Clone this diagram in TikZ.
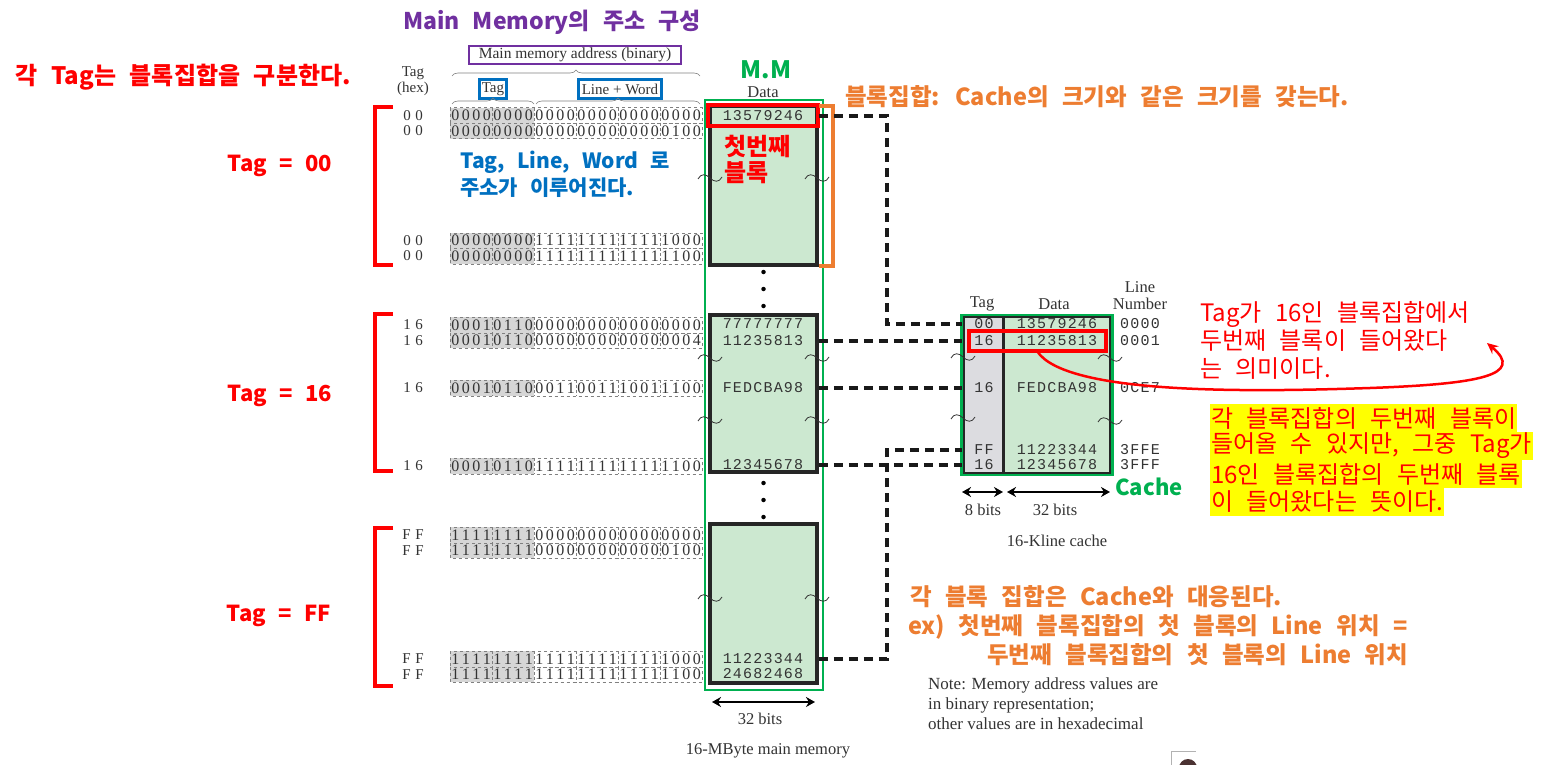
\documentclass[tikz,border=0pt]{standalone}
\usepackage{fontspec}
\usetikzlibrary{decorations.pathreplacing,arrows.meta}
\newfontfamily\kr{Noto Sans CJK KR}[WordSpace=2.5]
\newfontfamily\sr{Liberation Serif}
\newfontfamily\dtfont{Liberation Mono}[LetterSpace=8]
\definecolor{cred}{HTML}{FF0000}
\definecolor{corange}{HTML}{ED7D31}
\definecolor{cgreen}{HTML}{00B050}
\definecolor{cblue}{HTML}{0070C0}
\definecolor{cpurple}{HTML}{7030A0}
\definecolor{memfill}{HTML}{CCE8D0}
\definecolor{taggray}{HTML}{DCDCE0}
\definecolor{bingray}{HTML}{D6D6D6}
\definecolor{inkgray}{HTML}{333333}
\definecolor{cyellow}{HTML}{FFFF00}
\definecolor{darkbrown}{HTML}{4B3232}
\tikzset{
  krbold/.style={font=\kr\bfseries\fontsize{23.5}{28}\selectfont, inner sep=0pt},
  krplain/.style={font=\kr\fontsize{24}{28}\selectfont, inner sep=0pt},
  serif/.style={font=\sr\fontsize{16.5}{18}\selectfont, text=inkgray, inner sep=0pt},
  digst/.style={font=\sr\fontsize{16}{16}\selectfont, text=inkgray, inner sep=0pt},
  hexst/.style={font=\sr\fontsize{15}{16}\selectfont\addfontfeature{LetterSpace=30}, text=inkgray, inner sep=0pt},
  datast/.style={font=\dtfont\fontsize{15}{15}\selectfont, text=inkgray, inner sep=0pt},
  blockbox/.style={draw=black!85, line width=3.5pt, fill=memfill, inner sep=0pt},
  conn/.style={draw=black!90, line width=3.5pt, dash pattern=on 9pt off 6pt},
  redbracket/.style={draw=cred, line width=4pt},
  dotst/.style={circle, fill=black, inner sep=0pt, minimum size=4.5pt},
  wave/.style={draw=inkgray, line width=0.8pt},
  dblarrow/.style={line width=2.6pt, {Stealth[length=9pt,width=10pt]}-{Stealth[length=9pt,width=10pt]}},
  hl/.style={fill=cyellow, inner xsep=1pt, inner ysep=0pt, minimum height=28pt},
  bracest/.style={decorate, decoration={brace, amplitude=6pt}, draw=gray, line width=0.6pt}
}
\newcommand\binrow[4]{%
  \fill[bingray] (450,{#2-7.75}) rectangle (534,{#2+7.75});
  \draw[dashed, gray, line width=0.5pt] (450,{#2-7.75}) rectangle (702,{#2+7.75});
  \foreach \k in {1,...,5} \draw[densely dashed, gray, line width=0.4pt] ({450+\k*42},{#2-7.75}) -- ++(0,15.5);
  \node[hexst] (#1h) at (413,#2) {#3};
  \foreach \d [count=\i] in {#4} \node[digst] (#1d\i) at ({450+5.25+(\i-1)*10.5},#2) {\d};
}
\newcommand\tildeat[2]{\draw[wave] ({#1-12},{#2+1}) .. controls ({#1-9},{#2-5}) and ({#1-4},{#2-4}) .. (#1,#2) .. controls ({#1+4},{#2+4}) and ({#1+9},{#2+5}) .. ({#1+12},{#2-1});}
\begin{document}
\begin{tikzpicture}[x=1pt,y=-1pt]
\useasboundingbox (0,0) rectangle (1551,765);
\fill[white] (0,0) rectangle (1551,765);

% ---------- left labels ----------
\node[krbold, text=cred, font=\kr\bfseries\fontsize{24}{28}\selectfont] (lefttitle) at (183,77) {각 Tag는 블록집합을 구분한다.};
\node[krbold, text=cred, font=\kr\bfseries\fontsize{22}{26}\selectfont] (tag00) at (280,166) {Tag = 00};
\node[krbold, text=cred, font=\kr\bfseries\fontsize{22}{26}\selectfont] (tag16) at (280,396) {Tag = 16};
\node[krbold, text=cred, font=\kr\bfseries\fontsize{22}{26}\selectfont] (tagFF) at (279,616) {Tag = FF};
\draw[redbracket] (393,107) -- (375,107) -- (375,265) -- (393,265);
\draw[redbracket] (393,314) -- (375,314) -- (375,471) -- (393,471);
\draw[redbracket] (393,528) -- (375,528) -- (375,686) -- (393,686);

% ---------- header ----------
\node[font=\kr\bfseries\fontsize{23}{26}\selectfont, text=cpurple, inner sep=0pt] (title) at (552,22) {Main Memory의 주소 구성};
\node[serif, font=\sr\fontsize{15.5}{16}\selectfont, draw=cpurple, line width=2.5pt, minimum width=212pt, minimum height=18pt] (mmaddr) at (575,55) {Main memory address (binary)};
\draw[bracest] (452,76) -- (700,76);
\node[serif, font=\sr\fontsize{15}{16}\selectfont, draw=cblue, line width=2.5pt, minimum width=27pt, minimum height=19pt] (tagbox) at (493,89) {Tag};
\node[serif, font=\sr\fontsize{15}{16}\selectfont, draw=cblue, line width=2.5pt, minimum width=83pt, minimum height=19pt] (lwbox) at (620,89) {Line + Word};
\draw[bracest] (452,104) -- (534,104);
\draw[bracest] (536,104) -- (700,104);
\node[serif, font=\sr\fontsize{15}{16}\selectfont, align=center] (taghex) at (413,81) {Tag\\(hex)};

% ---------- binary rows ----------
\binrow{r1}{115.5}{00}{0,0,0,0,0,0,0,0,0,0,0,0,0,0,0,0,0,0,0,0,0,0,0,0}
\binrow{r2}{131}{00}{0,0,0,0,0,0,0,0,0,0,0,0,0,0,0,0,0,0,0,0,0,1,0,0}
\binrow{r3}{240.5}{00}{0,0,0,0,0,0,0,0,1,1,1,1,1,1,1,1,1,1,1,1,1,0,0,0}
\binrow{r4}{256}{00}{0,0,0,0,0,0,0,0,1,1,1,1,1,1,1,1,1,1,1,1,1,1,0,0}
\binrow{r5}{325}{16}{0,0,0,1,0,1,1,0,0,0,0,0,0,0,0,0,0,0,0,0,0,0,0,0}
\binrow{r6}{340.5}{16}{0,0,0,1,0,1,1,0,0,0,0,0,0,0,0,0,0,0,0,0,0,0,0,4}
\binrow{r7}{388}{16}{0,0,0,1,0,1,1,0,0,0,1,1,0,0,1,1,1,0,0,1,1,1,0,0}
\binrow{r8}{466}{16}{0,0,0,1,0,1,1,0,1,1,1,1,1,1,1,1,1,1,1,1,1,1,0,0}
\binrow{r9}{535}{FF}{1,1,1,1,1,1,1,1,0,0,0,0,0,0,0,0,0,0,0,0,0,0,0,0}
\binrow{r10}{550.5}{FF}{1,1,1,1,1,1,1,1,0,0,0,0,0,0,0,0,0,0,0,0,0,1,0,0}
\binrow{r11}{659}{FF}{1,1,1,1,1,1,1,1,1,1,1,1,1,1,1,1,1,1,1,1,1,0,0,0}
\binrow{r12}{674.5}{FF}{1,1,1,1,1,1,1,1,1,1,1,1,1,1,1,1,1,1,1,1,1,1,0,0}

\node[krbold, text=cblue, anchor=west, align=left, font=\kr\bfseries\fontsize{21}{27}\selectfont] (bluetxt) at (460,174.5) {Tag, Line, Word 로\\주소가 이루어진다.};

% ---------- main memory ----------
\node[krbold, text=cgreen, font=\kr\bfseries\fontsize{24}{26}\selectfont] (mmlabel) at (766,70) {M.M};
\node[serif] (datahdr) at (763,92) {Data};
\node[blockbox, minimum width=107pt, minimum height=159pt] (blk1) at (763.5,185.5) {};
\node[blockbox, minimum width=107pt, minimum height=157pt] (blk2) at (763.5,393.5) {};
\node[blockbox, minimum width=107pt, minimum height=159pt] (blk3) at (763.5,603.5) {};
\node[draw=cgreen, line width=2.5pt, minimum width=118pt, minimum height=590pt, inner sep=0pt] (mmframe) at (764,395) {};
\foreach \yy [count=\n] in {272,289,306,483,500,517} \node[dotst] (dot\n) at (763.5,\yy) {};

\node[datast] (d1) at (763,116) {13579246};
\node[datast] (d2) at (763,324) {77777777};
\node[datast] (d3) at (763,341) {11235813};
\node[datast] (d4) at (763,388) {FEDCBA98};
\node[datast] (d5) at (763,465) {12345678};
\node[datast] (d6) at (763,659) {11223344};
\node[datast] (d7) at (763,674) {24682468};
\node[draw=cred, line width=4pt, minimum width=110pt, minimum height=21pt, inner sep=0pt] (firstred) at (763,115.5) {};
\node[krbold, text=cred, anchor=west, align=left, font=\kr\bfseries\fontsize{24}{26}\selectfont] (first) at (724,159.5) {첫번째\\블록};

\tildeat{710}{178}\tildeat{817}{178}
\tildeat{710}{358}\tildeat{817}{358}
\tildeat{710}{420}\tildeat{817}{420}
\tildeat{710}{598}\tildeat{817}{598}

\draw[corange, line width=3.5pt] (819,106) -- (833,106) -- (833,266) -- (819,266);
\node[krbold, text=corange, anchor=west] (setlabel) at (845,97) {블록집합: Cache의 크기와 같은 크기를 갖는다.};

\draw[dblarrow] (712,702) coordinate (m32l) -- (815,702) coordinate (m32r);
\node[serif] (m32) at (760,719) {32 bits};
\node[serif] (mmcap) at (768,751) {16-MByte main memory};

% ---------- cache ----------
\fill[memfill] (963,316) rectangle (1110,473);
\fill[taggray] (963,316) rectangle (1003,473);
\node[draw=black!85, line width=3pt, minimum width=147pt, minimum height=157pt, inner sep=0pt] (cache) at (1036.5,394.5) {};
\draw[black!85, line width=3pt] (1003,316) -- (1003,473);
\node[draw=cgreen, line width=2.5pt, minimum width=151pt, minimum height=160pt, inner sep=0pt] (cacheframe) at (1037,395) {};
\node[serif] (chtag) at (982,304) {Tag};
\node[serif] (chdata) at (1054,304) {Data};
\node[serif, align=center, font=\sr\fontsize{16.5}{17}\selectfont] (chline) at (1140,296) {Line\\Number};

\node[datast] (ct1) at (984,324) {00};
\node[datast] (ct2) at (984,341) {16};
\node[datast] (ct3) at (984,388) {16};
\node[datast] (ct4) at (984,450) {FF};
\node[datast] (ct5) at (984,465) {16};
\node[datast] (cd1) at (1057,324) {13579246};
\node[datast] (cd2) at (1057,341) {11235813};
\node[datast] (cd3) at (1057,388) {FEDCBA98};
\node[datast] (cd4) at (1057,450) {11223344};
\node[datast] (cd5) at (1057,465) {12345678};
\node[datast] (cl1) at (1140,324) {0000};
\node[datast] (cl2) at (1140,341) {0001};
\node[datast] (cl3) at (1140,388) {0CE7};
\node[datast] (cl4) at (1140,450) {3FFE};
\node[datast] (cl5) at (1140,465) {3FFF};
\tildeat{963}{357}\tildeat{963}{418}
\tildeat{1110}{358}\tildeat{1110}{421}
\node[draw=cred, line width=4pt, minimum width=137pt, minimum height=20pt, inner sep=0pt] (cachered) at (1037.5,341) {};

\draw[dblarrow] (962,492) coordinate (c8l) -- (1003,492) coordinate (c8r);
\draw[dblarrow] (1007,492) coordinate (c32l) -- (1110,492) coordinate (c32r);
\node[serif] (c8) at (983,510) {8 bits};
\node[serif] (c32) at (1055,510) {32 bits};
\node[serif] (ccap) at (1057,541) {16-Kline cache};
\node[krbold, text=cgreen, font=\kr\bfseries\fontsize{22}{24}\selectfont] (cachelbl) at (1149,487) {Cache};

% ---------- connectors ----------
\draw[conn] (blk1.east |- d1) -- ++(68,0) |- (cache.west |- ct1);
\draw[conn] (blk2.east |- d3) -- (cache.west |- ct2);
\draw[conn] (blk2.east |- d4) -- (cache.west |- ct3);
\draw[conn] (blk2.east |- d5) -- (cache.west |- ct5);
\draw[conn] (blk3.east |- d6) -- ++(68,0) |- (cache.west |- ct4);

% ---------- right notes ----------
\node[krplain, text=cred, anchor=west] (n1) at (1200,314) {Tag가 16인 블록집합에서};
\node[krplain, text=cred, anchor=west] (n2) at (1200,341) {두번째 블록이 들어왔다};
\node[krplain, text=cred, anchor=west] (n3) at (1200,369) {는 의미이다.};
\coordinate (cstart) at (1037,351);
\coordinate (ctip) at (1487,343);
\draw[cred, line width=2.5pt, -{Stealth[length=11pt,width=10pt]}] (cstart) .. controls (1065,395) and (1250,392) .. (1370,388) .. controls (1480,384) and (1525,375) .. (ctip);

\node[krplain, hl, text=cred, anchor=west] (y1) at (1210,418) {각 블록집합의 두번째 블록이};
\node[krplain, hl, text=cred, anchor=west] (y2) at (1210,446) {들어올 수 있지만, 그중 Tag가};
\node[krplain, hl, text=cred, anchor=west] (y3) at (1210,474) {16인 블록집합의 두번째 블록};
\node[krplain, hl, text=cred, anchor=west] (y4) at (1210,502) {이 들어왔다는 뜻이다.};

\node[krbold, text=corange, anchor=west] (corr1) at (910,597) {각 블록 집합은 Cache와 대응된다.};
\node[krbold, text=corange, anchor=west] (corr2) at (908,627) {ex) 첫번째 블록집합의 첫 블록의 Line 위치 =};
\node[krbold, text=corange, anchor=west] (corr3) at (987,655) {두번째 블록집합의 첫 블록의 Line 위치};

\node[serif, font=\sr\fontsize{17}{20}\selectfont, anchor=north west, align=left] (note) at (928,677) {Note: Memory address values are\\in binary representation;\\other values are in hexadecimal};

% ---------- bottom fragment ----------
\draw[gray!60, line width=0.8pt] (1171,766) -- (1171,751) -- (1196,751);
\fill[darkbrown] (1188,768) circle (9);
\end{tikzpicture}
\end{document}
